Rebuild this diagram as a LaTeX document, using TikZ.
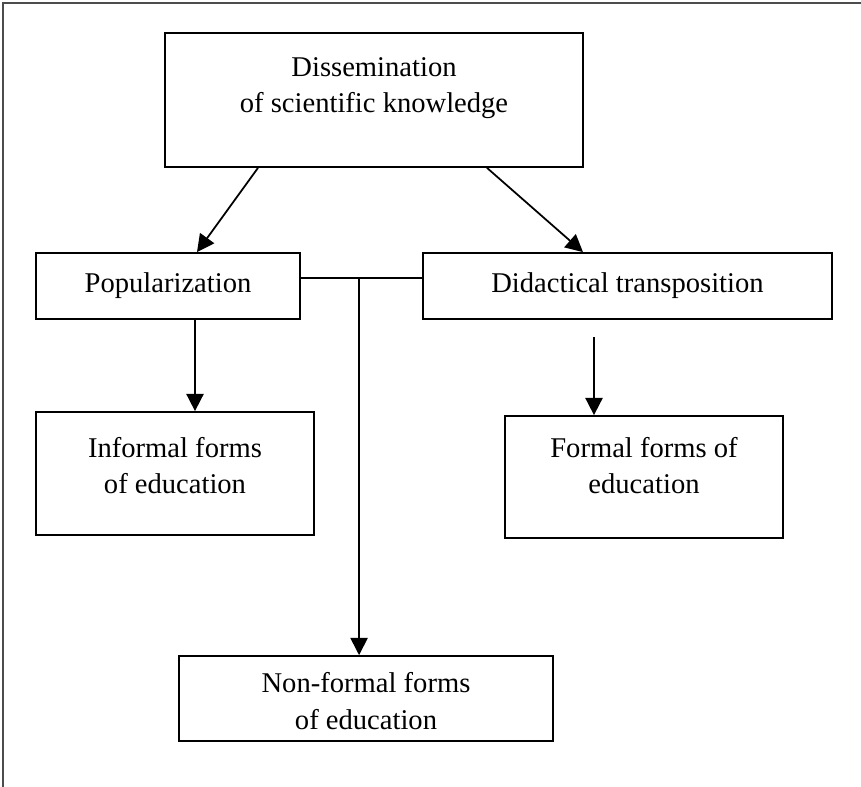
\documentclass[tikz,border=0pt]{standalone}
\usepackage{fontspec}
\setmainfont{Liberation Serif}
\usepackage{tikz}
\usetikzlibrary{arrows.meta,positioning,calc}

\begin{document}
\begin{tikzpicture}[
  x=0.03cm, y=-0.03cm,
  >={Triangle[length=5.2mm, width=5.2mm]},
  box/.style={draw, line width=1.5pt, inner sep=0pt},
  caption/.style={align=center, inner sep=0pt, font=\fontsize{24.4}{31}\selectfont},
  link/.style={draw, line width=1.5pt},
  frame/.style={draw, line width=1.2pt, black!70}
]
  \useasboundingbox (0,0) rectangle (861,787);
  \path[frame] (3,787) -- (3,3) -- (861,3);

  \node[box, minimum width=12.54cm, minimum height=4.02cm] (diss) at (374,100) {};
  \node[caption] (disstext) at (374,88) {Dissemination\\of scientific knowledge};
  \node[box, minimum width=7.92cm, minimum height=1.98cm] (popul) at (168,286) {};
  \node[caption] (popultext) at (popul.center) {Popularization};
  \node[box, minimum width=12.27cm, minimum height=1.98cm] (didact) at (627.5,286) {};
  \node[caption] (didacttext) at (didact.center) {Didactical transposition};
  \node[box, minimum width=8.34cm, minimum height=3.69cm] (informal) at (175,473.5) {};
  \node[caption] (informaltext) at (175,465.5) {Informal forms\\of education};
  \node[box, minimum width=8.34cm, minimum height=3.66cm] (formal) at (644,477) {};
  \node[caption] (formaltext) at (644,465.5) {Formal forms of\\education};
  \node[box, minimum width=11.22cm, minimum height=2.55cm] (nonformal) at (366,698.5) {};
  \node[caption] (nonformaltext) at (366,701) {Non-formal forms\\of education};

  \coordinate (didactfoot) at (594,337);
  \path ([yshift=0.24cm]popul.east) -- ([yshift=0.24cm]didact.west) coordinate[pos=0.48] (junction);

  \path[link, ->] ([xshift=-3.48cm]diss.south) -- ([xshift=0.87cm]popul.north);
  \path[link, ->] ([xshift=3.39cm]diss.south) -- ([xshift=-1.335cm]didact.north);
  \path[link, ->] ([xshift=0.81cm]popul.south) -- ([xshift=0.81cm]popul.south |- informal.north);
  \path[link, ->] (didactfoot) -- (didactfoot |- formal.north);
  \path[link] ([yshift=0.24cm]popul.east) -- ([yshift=0.24cm]didact.west);
  \path[link, ->] (junction) -- (junction |- nonformal.north);
\end{tikzpicture}
\end{document}
